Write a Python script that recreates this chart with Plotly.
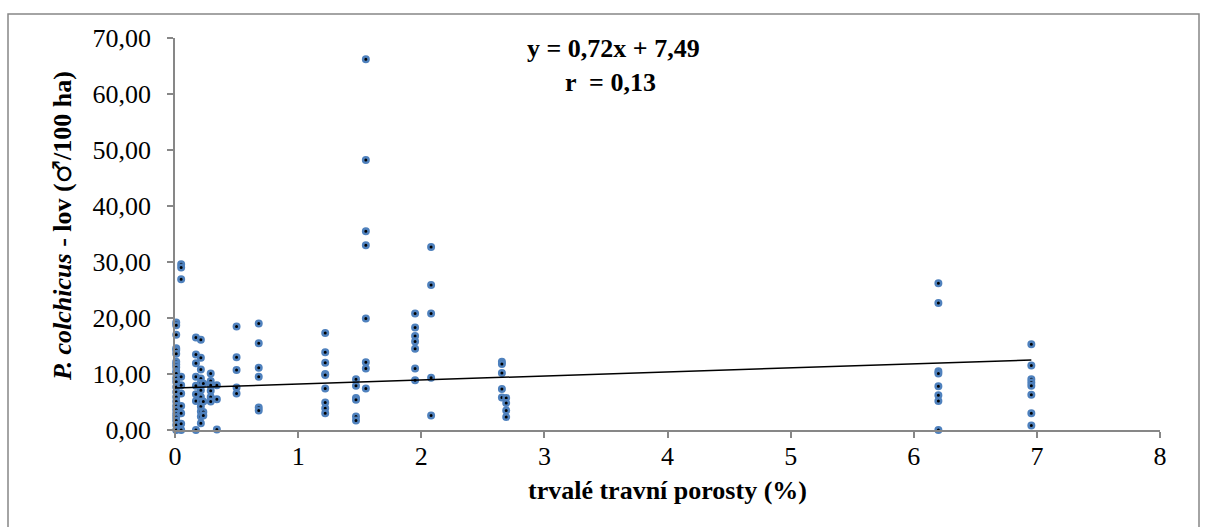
import plotly.graph_objects as go

# --- data (x: trvalé travní porosty %, y: P. colchicus lov) ---
x_001 = [0.01] * 24
y_001 = [19.2, 18.7, 17.0, 14.6, 14.3, 13.6, 12.2, 11.7, 11.2, 10.5, 10.1, 9.3,
         8.6, 7.7, 6.8, 5.9, 5.1, 4.3, 3.6, 2.9, 2.3, 1.7, 0.9, 0.0]
y_005 = [29.6, 29.0, 26.9, 9.5, 8.0, 6.5, 4.3, 3.0, 1.1, 0.0]
y_017 = [16.5, 13.5, 11.9, 9.5, 7.9, 6.4, 5.2, 0.0]
y_021 = [16.1, 12.9, 10.8, 9.2, 8.4, 7.1, 5.9, 5.1, 4.2, 3.3, 2.4, 1.2]
y_023 = [8.3, 5.1, 3.2, 2.6]
y_029 = [10.1, 8.75, 8.0, 7.0, 5.9, 5.1]
y_034 = [8.0, 5.5, 0.1]
y_050 = [18.5, 13.0, 10.7, 7.6, 6.5]
y_068 = [19.0, 15.5, 11.1, 9.5, 4.0, 3.5]
y_122 = [17.3, 13.9, 12.0, 10.0, 9.8, 7.4, 4.9, 3.9, 3.0]
y_147 = [9.05, 7.9, 5.7, 5.4, 2.4, 1.7]
y_155 = [66.2, 48.2, 35.5, 33.0, 19.9, 12.1, 11.0, 7.4]
y_195 = [20.8, 18.3, 16.8, 15.8, 14.5, 11.0, 8.9]
y_208 = [32.7, 25.9, 20.8, 9.35, 2.6]
y_2655 = [12.2, 11.8, 10.2, 7.3, 5.8]
y_269 = [5.7, 4.8, 3.5, 2.3]
y_620 = [26.2, 22.7, 10.5, 10.1, 7.8, 6.2, 5.2, 0.0]
y_6955 = [15.3, 11.5, 9.05, 8.5, 7.9, 6.3, 3.0, 0.8]

groups = [
    (0.01, y_001), (0.05, y_005), (0.17, y_017), (0.21, y_021), (0.23, y_023),
    (0.29, y_029), (0.34, y_034), (0.50, y_050), (0.68, y_068), (1.22, y_122),
    (1.47, y_147), (1.55, y_155), (1.95, y_195), (2.08, y_208), (2.655, y_2655),
    (2.69, y_269), (6.20, y_620), (6.955, y_6955),
]
xs, ys = [], []
for gx, gy in groups:
    xs += [gx] * len(gy)
    ys += gy

slope = 0.72
intercept = 7.49
trend_x = [0.0, max(xs)]
trend_y = [intercept + slope * v for v in trend_x]

x_ticks = [0, 1, 2, 3, 4, 5, 6, 7, 8]
y_ticks = [0, 10, 20, 30, 40, 50, 60, 70]

FONT = "Liberation Serif, Times New Roman, serif"
AX = "#878787"
FS = 26

fig = go.Figure()
fig.add_trace(go.Scatter(
    x=xs, y=ys, mode="markers", cliponaxis=False,
    marker=dict(size=5.5, color="#000000", line=dict(color="#4F81BD", width=2.5)),
    showlegend=False,
))
fig.add_trace(go.Scatter(
    x=trend_x, y=trend_y, mode="lines",
    line=dict(color="#000000", width=1.5), showlegend=False,
))

L, R, T, B = 175, 45, 38, 97
W, H = 1205, 527
pw, ph = W - L - R, H - T - B

def px(xp):
    return (xp - L) / pw

def py(yp):
    return (H - B - yp) / ph

male = '<span style="font-family:DejaVu Sans;font-weight:normal">♂</span>'

fig.update_layout(
    width=W, height=H,
    margin=dict(l=L, r=R, t=T, b=B),
    paper_bgcolor="white", plot_bgcolor="white",
    separators=", ",
    font=dict(family=FONT, size=FS, color="#000000"),
    xaxis=dict(range=[0, 8], tickvals=x_ticks, ticktext=[str(v) for v in x_ticks],
               showgrid=False, zeroline=False, showline=True, linecolor=AX, linewidth=1.5,
               ticks="outside", ticklen=6, tickcolor=AX, tickwidth=1.5,
               ticklabelstandoff=-4,
               tickfont=dict(family=FONT, size=FS)),
    yaxis=dict(range=[0, 70], tickvals=y_ticks, tickformat=".2f",
               showgrid=False, zeroline=False, showline=True, linecolor=AX, linewidth=1.5,
               ticks="outside", ticklen=6, tickcolor=AX, tickwidth=1.5,
               ticklabelstandoff=11,
               tickfont=dict(family=FONT, size=FS)),
    shapes=[dict(type="rect", xref="paper", yref="paper",
                 x0=px(8), x1=px(1199), y0=py(540), y1=py(14),
                 line=dict(color=AX, width=1.5), fillcolor="rgba(0,0,0,0)", layer="below")],
    annotations=[
        dict(text="<b>y = 0,72x + 7,49</b>", xref="paper", yref="paper",
             x=px(613), y=py(49), xanchor="center", yanchor="middle", showarrow=False,
             font=dict(family=FONT, size=FS)),
        dict(text="<b>r  = 0,13</b>", xref="paper", yref="paper",
             x=px(610), y=py(82), xanchor="center", yanchor="middle", showarrow=False,
             font=dict(family=FONT, size=FS)),
        dict(text="<b>trvalé travní porosty (%)</b>", xref="paper", yref="paper",
             x=px(667), y=py(490), xanchor="center", yanchor="middle", showarrow=False,
             font=dict(family=FONT, size=FS)),
        dict(text="<b><i>P. colchicus</i> - lov (" + male + "/100 ha)</b>",
             xref="paper", yref="paper",
             x=px(62), y=py(226), xanchor="center", yanchor="middle", showarrow=False,
             textangle=-90, font=dict(family=FONT, size=FS)),
    ],
)

fig.write_html("out.html")
